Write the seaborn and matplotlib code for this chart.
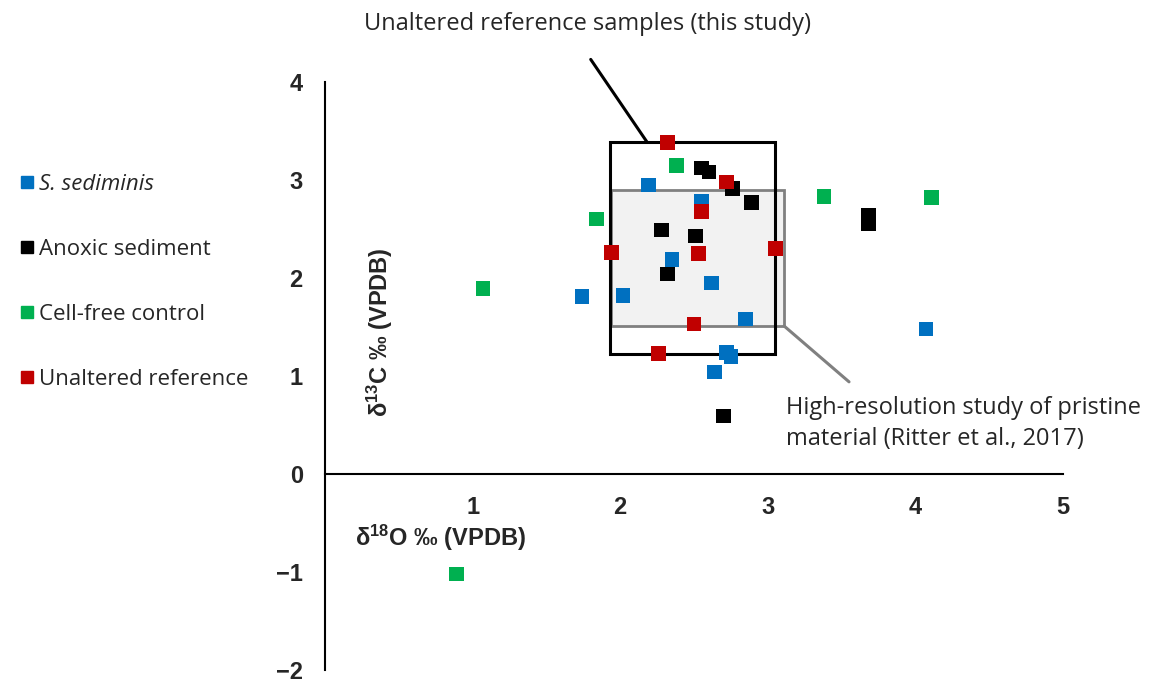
import numpy as np
import pandas as pd
import matplotlib.pyplot as plt
import seaborn as sns
from matplotlib.patches import Rectangle
from matplotlib.lines import Line2D

sns.set_style("white")
plt.rcParams['font.family'] = ['Open Sans', 'DejaVu Sans']
plt.rcParams['mathtext.fontset'] = 'custom'
plt.rcParams['mathtext.rm'] = 'Liberation Sans'
plt.rcParams['mathtext.bf'] = 'Liberation Sans:bold'

# d18O (x) and d13C (y) per group
sed_x = [2.19, 2.55, 2.35, 2.62, 1.74, 2.02, 2.85, 2.72, 2.75, 2.64, 4.07]
sed_y = [2.95, 2.78, 2.19, 1.95, 1.81, 1.82, 1.58, 1.24, 1.20, 1.04, 1.48]
anox_x = [2.55, 2.60, 2.76, 2.89, 2.28, 2.51, 2.32, 2.70, 3.68, 3.68]
anox_y = [3.12, 3.08, 2.91, 2.77, 2.49, 2.43, 2.04, 0.59, 2.64, 2.55]
cell_x = [2.38, 3.38, 4.11, 1.84, 1.07, 0.89]
cell_y = [3.15, 2.83, 2.82, 2.60, 1.89, -1.02]
ref_x = [2.32, 2.72, 2.55, 1.94, 3.05, 2.53, 2.50, 2.26]
ref_y = [3.38, 2.98, 2.68, 2.26, 2.30, 2.25, 1.53, 1.23]

groups = ['S. sediminis', 'Anoxic sediment', 'Cell-free control', 'Unaltered reference']
colors = ['#0070C0', '#000000', '#00B050', '#C00000']

df = pd.concat([
    pd.DataFrame({'d18O': sed_x, 'd13C': sed_y, 'group': groups[0]}),
    pd.DataFrame({'d18O': anox_x, 'd13C': anox_y, 'group': groups[1]}),
    pd.DataFrame({'d18O': cell_x, 'd13C': cell_y, 'group': groups[2]}),
    pd.DataFrame({'d18O': ref_x, 'd13C': ref_y, 'group': groups[3]}),
])

# boxes: (x0, x1, y0, y1)
ritter_box = (1.94, 3.11, 1.51, 2.90)
study_box = (1.93, 3.05, 1.22, 3.39)

fig = plt.figure(figsize=(11.53, 6.79), dpi=100)
ax = fig.add_axes([0.2819, 0.0133, 0.6401, 0.866])

ax.add_patch(Rectangle((ritter_box[0], ritter_box[2]), ritter_box[1] - ritter_box[0],
                       ritter_box[3] - ritter_box[2], facecolor='#F2F2F2',
                       edgecolor='#808080', lw=2, zorder=1))
ax.add_patch(Rectangle((study_box[0], study_box[2]), study_box[1] - study_box[0],
                       study_box[3] - study_box[2], facecolor='none',
                       edgecolor='black', lw=2.2, zorder=2))

sns.scatterplot(data=df, x='d18O', y='d13C', hue='group', palette=colors,
                marker='s', s=110, linewidth=0, ax=ax, legend=False, zorder=3)

# leader lines
ax.plot([2.18, 1.80], [3.39, 4.23], color='black', lw=2.2, clip_on=False)
ax.plot([3.11, 3.55], [1.51, 0.94], color='#808080', lw=2.2, clip_on=False)
ax.text(1.78, 4.59, 'Unaltered reference samples (this study)', ha='center', va='center',
        fontsize=17, clip_on=False)
ax.text(3.12, 0.515, 'High-resolution study of pristine\nmaterial (Ritter et al., 2017)',
        ha='left', va='center', fontsize=17, linespacing=1.42, clip_on=False)

ax.set_xlim(0, 5)
ax.set_ylim(-2, 4)
ax.spines['top'].set_visible(False)
ax.spines['right'].set_visible(False)
ax.spines['bottom'].set_position(('data', 0))
for s in ['left', 'bottom']:
    ax.spines[s].set_linewidth(1.5)
    ax.spines[s].set_color('black')
ax.set_xticks([1, 2, 3, 4, 5])
ax.set_yticks([-2, -1, 0, 1, 2, 3, 4])
ax.set_yticklabels(['\u22122', '\u22121', '0', '1', '2', '3', '4'])
ax.tick_params(axis='both', direction='out', length=7, width=1.5, color='black')
ax.tick_params(axis='x', pad=9)
ax.tick_params(axis='y', pad=9)
for lab in ax.get_xticklabels() + ax.get_yticklabels():
    lab.set_fontfamily(['Liberation Sans', 'DejaVu Sans'])
    lab.set_fontweight('bold')
    lab.set_fontsize(17)
ax.set_xlabel('')
ax.set_ylabel('')

ax.text(0.2, -0.65, r'$\mathbf{\delta^{18}}$O ‰ (VPDB)', ha='left', va='center',
        fontsize=17, fontweight='bold', family=['Liberation Sans', 'DejaVu Sans'])
ax.text(0.37, 1.45, r'$\mathbf{\delta^{13}}$C ‰ (VPDB)', ha='center', va='center',
        rotation=90, fontsize=17, fontweight='bold', family=['Liberation Sans', 'DejaVu Sans'])

handles = [Line2D([], [], marker='s', color=c, ls='none', markersize=9) for c in colors]
leg = fig.legend(handles, groups, loc='upper left', bbox_to_anchor=(0.0, 0.767),
                 frameon=False, fontsize=16, labelspacing=1.98, handletextpad=0.05,
                 handlelength=1.0, borderaxespad=0.3)
leg.get_texts()[0].set_fontstyle('italic')

fig.savefig('out.png', dpi=100)
